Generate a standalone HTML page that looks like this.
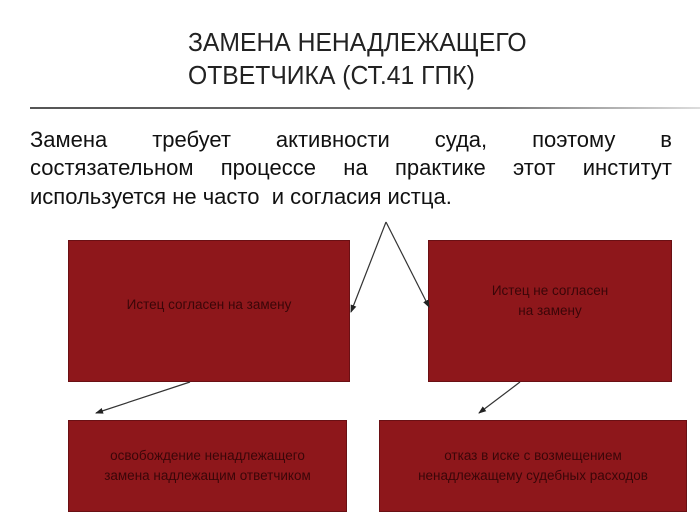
<!DOCTYPE html>
<html><head><meta charset="utf-8"><style>
body{margin:0;width:700px;height:524px;background:#fff;position:relative;overflow:hidden;font-family:"Liberation Sans","DejaVu Sans",sans-serif}
.t{position:absolute;left:188px;font-size:26px;color:#222;transform:scaleX(.95);transform-origin:left;white-space:nowrap}
.rule{position:absolute;left:30px;top:107px;width:670px;height:2px;background:linear-gradient(90deg,#555,#777 70%,#ddd)}
.l{position:absolute;left:30px;width:642px;font-size:22px;color:#111;display:flex;justify-content:space-between;white-space:nowrap}
.b{position:absolute;background:#8e171b;border:1px solid #6a1014;color:#3a0608;font-size:13.5px;display:flex;align-items:center;justify-content:center;text-align:center;line-height:20px;box-sizing:border-box}
</style></head><body>
<div class="t" style="top:27px">ЗАМЕНА НЕНАДЛЕЖАЩЕГО</div>
<div class="t" style="top:60px">ОТВЕТЧИКА (СТ.41 ГПК)</div>
<div class="rule"></div>
<div class="l" style="top:127px"><span>Замена</span><span>требует</span><span>активности</span><span>суда,</span><span>поэтому</span><span>в</span></div>
<div class="l" style="top:155px"><span>состязательном</span><span>процессе</span><span>на</span><span>практике</span><span>этот</span><span>институт</span></div>
<div class="l" style="top:184px;justify-content:flex-start">используется не часто&nbsp; и согласия истца.</div>
<div class="b" style="left:68px;top:240px;width:282px;height:142px;padding-bottom:12px">Истец согласен на замену</div>
<div class="b" style="left:428px;top:240px;width:244px;height:142px;padding-bottom:20px">Истец не согласен<br>на замену</div>
<div class="b" style="left:68px;top:420px;width:279px;height:92px">освобождение ненадлежащего<br>замена надлежащим ответчиком</div>
<div class="b" style="left:379px;top:420px;width:308px;height:92px">отказ в иске с возмещением<br>ненадлежащему судебных расходов</div>
<svg width="700" height="524" style="position:absolute;left:0;top:0">
<defs><marker id="a" markerWidth="8" markerHeight="8" refX="7" refY="4" orient="auto" markerUnits="userSpaceOnUse"><path d="M0,1 L8,4 L0,7z" fill="#222"/></marker></defs>
<g stroke="#333" stroke-width="1.2" fill="none">
<line x1="386" y1="222" x2="351" y2="312" marker-end="url(#a)"/>
<line x1="386" y1="222" x2="429" y2="307" marker-end="url(#a)"/>
<line x1="190" y1="382" x2="96" y2="413" marker-end="url(#a)"/>
<line x1="520" y1="382" x2="479" y2="413" marker-end="url(#a)"/>
</g></svg>
</body></html>
